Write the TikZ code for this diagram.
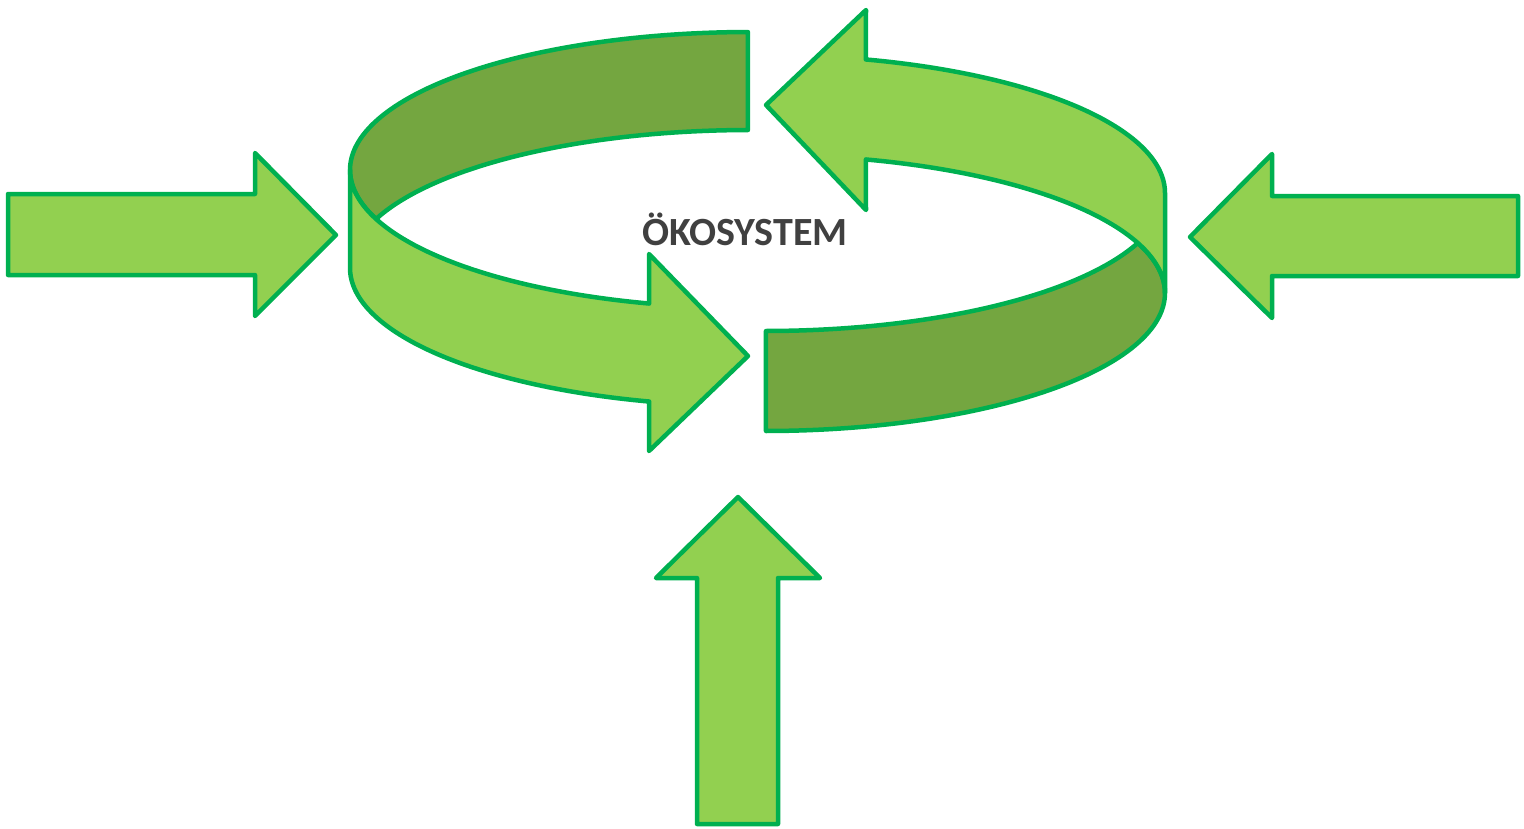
\documentclass[tikz,border=0pt]{standalone}
\usepackage{fontspec}
\setmainfont{Carlito}
\definecolor{lightg}{HTML}{92D050}
\definecolor{darkg}{HTML}{74A640}
\definecolor{edgeg}{HTML}{00B050}
\definecolor{txtg}{HTML}{404040}
\tikzset{band/.style={draw=edgeg, line width=4.5pt, line join=round}}
\begin{document}
\begin{tikzpicture}[x=1pt,y=-1pt]
\useasboundingbox (0,0) rectangle (1524,828);
% left curved arrow: back (dark) part
\draw[band, fill=darkg] plot[domain=90.3:200.8, samples=90] ({750+400*cos(\x)},{170-138*sin(\x)})
  -- plot[domain=159.2:90.3, samples=90] ({750+400*cos(\x)},{268-138*sin(\x)}) -- cycle;
% left curved arrow: front (light) part with head
\draw[band, fill=lightg] plot[domain=180:255.4, samples=90] ({750+400*cos(\x)},{170-138*sin(\x)})
  -- (649,254) -- (748,356) -- (649,451)
  -- plot[domain=255.4:180, samples=90] ({750+400*cos(\x)},{268-138*sin(\x)}) -- cycle;
% right curved arrow: back (dark) part
\draw[band, fill=darkg] plot[domain=270.14:339.2, samples=90] ({765+400*cos(\x)},{193-138*sin(\x)})
  -- plot[domain=380.8:270.14, samples=90] ({765+400*cos(\x)},{293-138*sin(\x)}) -- cycle;
% right curved arrow: front (light) part with head
\draw[band, fill=lightg] plot[domain=0:75.4, samples=90] ({765+400*cos(\x)},{193-138*sin(\x)})
  -- (866,10) -- (766,105) -- (866,210)
  -- plot[domain=75.4:0, samples=90] ({765+400*cos(\x)},{293-138*sin(\x)}) -- cycle;
% straight arrows
\draw[band, fill=lightg] (8,194) -- (255,194) -- (255,153) -- (336,235) -- (255,316) -- (255,275) -- (8,275) -- cycle;
\draw[band, fill=lightg] (1518,196) -- (1272,196) -- (1272,154) -- (1190,237) -- (1272,318) -- (1272,276) -- (1518,276) -- cycle;
\draw[band, fill=lightg] (697,824) -- (697,578) -- (656,578) -- (738,497) -- (820,578) -- (778,578) -- (778,824) -- cycle;
% label
\node[anchor=base, text=txtg, font=\bfseries\fontsize{40}{40}\selectfont, inner sep=0pt] (eco) at (745,245) {ÖKOSYSTEM};
\end{tikzpicture}
\end{document}
